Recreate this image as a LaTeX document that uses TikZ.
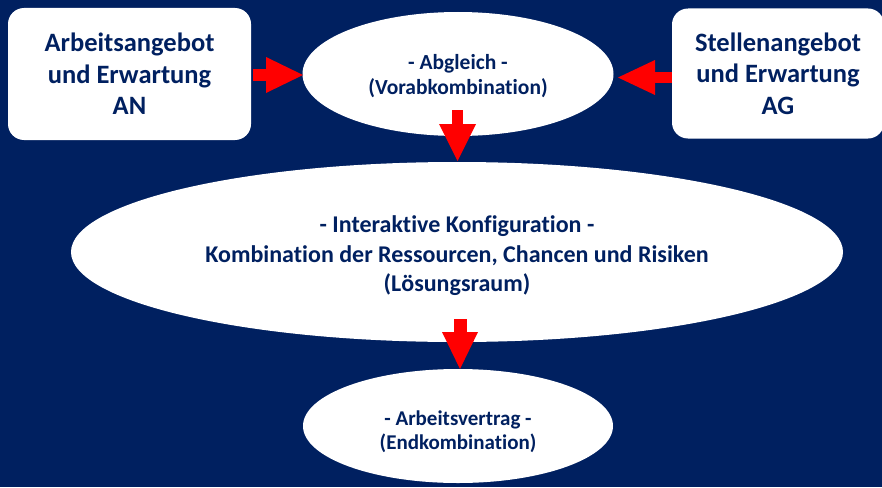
\documentclass[tikz,border=0pt]{standalone}
\usepackage{fontspec}
\setmainfont{Carlito}[Ligatures={NoCommon}]
\usetikzlibrary{arrows.meta,shapes.geometric}
\definecolor{navy}{RGB}{0,32,96}
\definecolor{ared}{RGB}{255,0,0}
\begin{document}
\begin{tikzpicture}[x=1pt,y=-1pt,
  box/.style={rectangle, fill=white, rounded corners=16pt, text=navy, align=center, inner sep=0pt,
    font=\bfseries\fontsize{26.5}{31.5}\selectfont},
  ell/.style={ellipse, fill=white, inner sep=0pt},
  lbl/.style={text=navy, align=center, inner sep=0pt},
  smalltext/.style={font=\bfseries\fontsize{21.5}{25}\selectfont},
  bigtext/.style={font=\bfseries\fontsize{24}{29.5}\selectfont},
  bottomtext/.style={font=\bfseries\fontsize{21}{23.5}\selectfont},
  blockarrow/.style 2 args={draw=ared, line width=#1,
    -{Triangle[width=#2, length=37pt, line width=0pt, fill=ared]}}]
\useasboundingbox (0,0) rectangle (882,487);
\fill[navy] (0,0) rectangle (882,487);

\node[box, minimum width=243pt, minimum height=132pt] (an) at (129.5,74)
  {Arbeitsangebot\\und Erwartung\\AN};
\node[box, minimum width=212pt, minimum height=130pt] (ag) at (778,73.5)
  {Stellenangebot\\und Erwartung\\AG};
\node[ell, minimum width=311pt, minimum height=124pt] (abg) at (458,74) {};
\node[lbl, smalltext] (abgtext) at ([yshift=-2.5pt]abg.center)
  {- Abgleich -\\(Vorabkombination)};
\node[ell, minimum width=772pt, minimum height=180pt] (konf) at (457,252) {};
\node[lbl, bigtext] (konftext) at ([yshift=-4pt]konf.center)
  {- Interaktive Konfiguration -\\Kombination der Ressourcen, Chancen und Risiken\\(Lösungsraum)};
\node[ell, minimum width=310pt, minimum height=114pt] (vertrag) at (458,426) {};
\node[lbl, bottomtext] (vertragtext) at ([yshift=-5.5pt]vertrag.center)
  {- Arbeitsvertrag -\\(Endkombination)};

\coordinate (a1s) at (253,75);
\coordinate (a1t) at (303,75);
\coordinate (a2s) at (672,77.5);
\coordinate (a2t) at (618,77.5);
\coordinate (a3s) at (457.5,110);
\coordinate (a3t) at (457.5,161);
\coordinate (a4s) at (460,319);
\coordinate (a4t) at (460,369);

\draw[blockarrow={12pt}{36pt}] (a1s) -- (a1t);
\draw[blockarrow={11pt}{35pt}] (a2s) -- (a2t);
\draw[blockarrow={11pt}{37pt}] (a3s) -- (a3t);
\draw[blockarrow={13pt}{36pt}] (a4s) -- (a4t);
\end{tikzpicture}
\end{document}
